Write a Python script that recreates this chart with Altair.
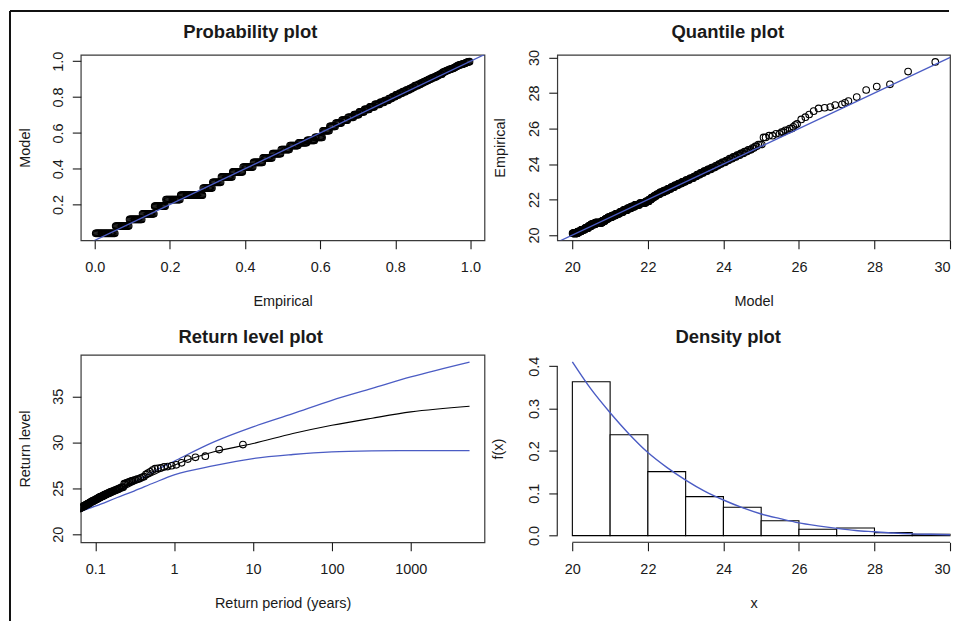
import numpy as np
import pandas as pd
import altair as alt

FONT = "Liberation Sans"
INK = "#1a1a1a"
BLUE = "#4b5cc4"

# ---------------- values ----------------
# distinct values of the sorted sample (body of the data) and how often each occurs
body_values = [20.1, 20.2, 20.3, 20.4, 20.5, 20.6, 20.7, 20.8, 20.9, 21.0,
               21.1, 21.2, 21.3, 21.4, 21.5, 21.6, 21.7, 21.8, 21.9, 22.0,
               22.1, 22.2, 22.3, 22.4, 22.5, 22.6, 22.7, 22.8, 22.9, 23.0,
               23.1, 23.2, 23.3, 23.4, 23.5, 23.6, 23.7, 23.8, 23.9, 24.0,
               24.1, 24.2, 24.3, 24.4, 24.5, 24.6, 24.7, 24.8, 24.9, 25.0,
               25.1, 25.5, 25.6, 25.7, 25.8, 25.9, 26.0]
body_counts = [23, 16, 15, 14, 13, 17, 26, 11, 10, 13,
               12, 12, 11, 11, 10, 10, 10, 10, 9, 9,
               8, 7, 7, 7, 7, 6, 6, 6, 6, 6,
               5, 5, 4, 4, 4, 4, 4, 4, 3, 3,
               4, 3, 3, 3, 3, 3, 3, 3, 2, 2,
               3, 2, 2, 2, 2, 2, 2]
# fitted model CDF at each distinct value (step heights of the probability plot)
body_model_cdf = [0.039, 0.080, 0.117, 0.148, 0.191, 0.228, 0.252, 0.292, 0.324, 0.354,
                  0.382, 0.409, 0.435, 0.460, 0.484, 0.507, 0.529, 0.545, 0.558, 0.575,
                  0.612, 0.636, 0.655, 0.671, 0.687, 0.702, 0.717, 0.731, 0.745, 0.759,
                  0.770, 0.781, 0.792, 0.802, 0.812, 0.821, 0.830, 0.839, 0.847, 0.855,
                  0.864, 0.871, 0.878, 0.885, 0.892, 0.899, 0.906, 0.912, 0.918, 0.923,
                  0.928, 0.938, 0.943, 0.947, 0.951, 0.955, 0.958]
tail_values = [26.1, 26.2, 26.26, 26.51, 26.64, 26.79, 26.98, 27.13, 27.17, 27.21,
               27.32, 27.36, 27.45, 27.55, 27.77, 28.17, 28.36, 28.49, 29.21, 29.75]
tail_model_cdf = [0.961, 0.963, 0.965, 0.969, 0.971, 0.974, 0.977, 0.979, 0.980, 0.981,
                  0.983, 0.984, 0.986, 0.987, 0.989, 0.992, 0.994, 0.995, 0.997, 0.998]
tail_model_quantile = [25.85, 25.90, 25.95, 26.06, 26.17, 26.27, 26.39, 26.52, 26.68, 26.83,
                       26.96, 27.14, 27.22, 27.31, 27.53, 27.78, 28.06, 28.41, 28.89, 29.61]
threshold = 20.0

# return level plot
rl_top_period = 7.45  # return period (years) of the largest observation
rl_period = [0.0655, 0.1, 0.19, 0.31, 0.557, 1, 3.2, 10, 32, 100, 323, 1000, 5560]
rl_level = [22.64, 23.35, 24.50, 25.45, 26.50, 27.50, 28.96, 29.86, 30.95, 31.85, 32.62, 33.30, 33.92]
rl_upper = [22.70, 23.45, 24.65, 25.65, 26.85, 27.94, 30.04, 31.67, 33.11, 34.56, 35.85, 37.10, 38.72]
rl_lower = [22.50, 23.05, 24.00, 24.70, 25.60, 26.45, 27.45, 28.23, 28.67, 28.96, 29.07, 29.10, 29.10]

# density plot
hist_breaks = [20, 21, 22, 23, 24, 25, 26, 27, 28, 29, 30]
hist_density = [0.363, 0.238, 0.151, 0.092, 0.067, 0.035, 0.015, 0.018, 0.007, 0.003]
dens_x = [20, 20.5, 21, 21.5, 22, 22.5, 23, 23.5, 24, 24.5, 25, 25.5, 26, 26.5, 27, 27.5, 28, 28.5, 29, 29.5, 30]
dens_y = [0.410, 0.345, 0.290, 0.240, 0.196, 0.161, 0.131, 0.105, 0.084, 0.066, 0.051,
          0.040, 0.030, 0.023, 0.017, 0.012, 0.009, 0.006, 0.004, 0.003, 0.002]

# ticks
prob_x_ticks = [0.0, 0.2, 0.4, 0.6, 0.8, 1.0]
prob_y_ticks = [0.2, 0.4, 0.6, 0.8, 1.0]
q_ticks = [20, 22, 24, 26, 28, 30]
rl_x_ticks = [0.1, 1, 10, 100, 1000]
rl_y_ticks = [20, 25, 30, 35]
dens_y_ticks = [0.0, 0.1, 0.2, 0.3, 0.4]

# ---------------- derived tables ----------------
sample = list(np.repeat(body_values, body_counts)) + tail_values
n = len(sample)
n_body = int(np.sum(body_counts))
emp_p = np.arange(1, n + 1) / (n + 1)
model_p = list(np.repeat(body_model_cdf, body_counts)) + tail_model_cdf
model_q = list(np.interp(emp_p[:n_body], [0.0] + body_model_cdf, [threshold] + body_values)) + tail_model_quantile

prob_df = pd.DataFrame({"emp": emp_p, "model": model_p})
qq_df = pd.DataFrame({"model": model_q, "emp": sample})
desc = sorted(sample, reverse=True)
rl_pts = pd.DataFrame({"T": [rl_top_period / r for r in range(1, n + 1)], "level": desc})
rl_df = pd.DataFrame({"T": rl_period, "mid": rl_level, "up": rl_upper, "lo": rl_lower})
hist_df = pd.DataFrame({"left": hist_breaks[:-1], "right": hist_breaks[1:], "d": hist_density})
dens_df = pd.DataFrame({"x": dens_x, "y": dens_y})
one = pd.DataFrame({"k": [0]})

W_L, W_R = 405, 394
H_T, H_B = 186, 188


def x_axis(title, values, fmt, flush=False):
    return alt.Axis(title=title, values=values, format=fmt, labelBaseline="middle",
                    labelPadding=19, labelFlush=flush, titleBaseline="alphabetic", titleY=65.5,
                    labelOverlap=False, domain=False)


def y_axis(title, values, fmt, h, title_x):
    return alt.Axis(title=title, values=values, format=fmt, labelAngle=270, labelAlign="center",
                    labelBaseline="middle", labelPadding=14, titleAngle=270, titleBaseline="alphabetic",
                    titleAlign="center", titleX=title_x, titleY=h / 2, labelOverlap=False, domain=False)


def panel_title(text, x, y):
    return alt.Chart(one).mark_text(font=FONT, fontSize=18.5, fontWeight="bold", color=INK,
                                    align="center", baseline="alphabetic").encode(
        x=alt.value(x), y=alt.value(y), text=alt.value(text))


def circles(df):
    return alt.Chart(df).mark_point(shape="circle", filled=False, size=44, color="black",
                                    strokeWidth=1.1, opacity=1, clip=True)


# ---- Probability plot ----
px = alt.Scale(domain=[-0.0375, 1.0375], nice=False, zero=False)
py = alt.Scale(domain=[0.0006, 1.036], nice=False, zero=False)
ax_px = x_axis("Empirical", prob_x_ticks, ".1f")
ax_py = y_axis("Model", prob_y_ticks, ".1f", H_T, -51)
prob_pts = circles(prob_df).encode(
    x=alt.X("emp:Q", scale=px, axis=ax_px), y=alt.Y("model:Q", scale=py, axis=ax_py))
abl1 = pd.DataFrame({"a": [-0.05, 1.05]})
prob_line = alt.Chart(abl1).mark_line(color=BLUE, strokeWidth=1.3, clip=True).encode(
    x=alt.X("a:Q", scale=px, axis=ax_px), y=alt.Y("a:Q", scale=py, axis=ax_py))
frame_v = alt.Chart(one).mark_rule(color="#111", strokeWidth=2).encode(
    x=alt.value(-71), y=alt.value(-44), y2=alt.value(569))
frame_h = alt.Chart(one).mark_rule(color="#111", strokeWidth=2).encode(
    x=alt.value(-71), x2=alt.value(871), y=alt.value(-44))
tl = alt.layer(prob_pts, prob_line, frame_v, frame_h,
               panel_title("Probability plot", 170, -17)).properties(width=W_L, height=H_T)

# ---- Quantile plot ----
qx = alt.Scale(domain=[19.6, 30.0], nice=False, zero=False)
qy = alt.Scale(domain=[19.71, 30.15], nice=False, zero=False)
ax_qx = x_axis("Model", q_ticks, "d", flush=True)
ax_qy = y_axis("Empirical", q_ticks, "d", H_T, -53)
qq_pts = circles(qq_df).encode(
    x=alt.X("model:Q", scale=qx, axis=ax_qx), y=alt.Y("emp:Q", scale=qy, axis=ax_qy))
abl2 = pd.DataFrame({"a": [19.0, 31.0]})
qq_line = alt.Chart(abl2).mark_line(color=BLUE, strokeWidth=1.3, clip=True).encode(
    x=alt.X("a:Q", scale=qx, axis=ax_qx), y=alt.Y("a:Q", scale=qy, axis=ax_qy))
tr = alt.layer(qq_pts, qq_line, panel_title("Quantile plot", 171, -17)).properties(width=W_R, height=H_T)

# ---- Return level plot ----
rx = alt.Scale(type="log", domain=[0.0655, 8600], nice=False)
ry = alt.Scale(domain=[19.13, 39.5], nice=False, zero=False)
ax_rx = x_axis("Return period (years)", rl_x_ticks, "~g")
ax_ry = y_axis("Return level", rl_y_ticks, "d", H_B, -51)
rl_mid = alt.Chart(rl_df).mark_line(color="black", strokeWidth=1.1, clip=True, interpolate="monotone").encode(
    x=alt.X("T:Q", scale=rx, axis=ax_rx), y=alt.Y("mid:Q", scale=ry, axis=ax_ry))
rl_up = alt.Chart(rl_df).mark_line(color=BLUE, strokeWidth=1.3, clip=True, interpolate="monotone").encode(
    x=alt.X("T:Q", scale=rx, axis=ax_rx), y=alt.Y("up:Q", scale=ry, axis=ax_ry))
rl_lo = alt.Chart(rl_df).mark_line(color=BLUE, strokeWidth=1.3, clip=True, interpolate="monotone").encode(
    x=alt.X("T:Q", scale=rx, axis=ax_rx), y=alt.Y("lo:Q", scale=ry, axis=ax_ry))
rl_p = circles(rl_pts).encode(
    x=alt.X("T:Q", scale=rx, axis=ax_rx), y=alt.Y("level:Q", scale=ry, axis=ax_ry))
bl = alt.layer(rl_mid, rl_up, rl_lo, rl_p,
               panel_title("Return level plot", 170.5, -12)).properties(width=W_L, height=H_B)

# ---- Density plot ----
dxs = alt.Scale(domain=[19.6, 30.0], nice=False, zero=False)
dys = alt.Scale(domain=[-0.0158, 0.4266], nice=False, zero=False)
ax_dx = x_axis("x", q_ticks, "d", flush=True)
ax_dy = y_axis("f(x)", dens_y_ticks, ".1f", H_B, -55)
bars = alt.Chart(hist_df).mark_rect(fill="white", stroke="black", strokeWidth=1.1).encode(
    x=alt.X("left:Q", scale=dxs, axis=ax_dx), x2="right:Q",
    y=alt.Y("d:Q", scale=dys, axis=ax_dy), y2=alt.datum(0))
curve = alt.Chart(dens_df).mark_line(color=BLUE, strokeWidth=1.4, clip=True, interpolate="monotone").encode(
    x=alt.X("x:Q", scale=dxs, axis=ax_dx), y=alt.Y("y:Q", scale=dys, axis=ax_dy))
xline_df = pd.DataFrame({"a": [q_ticks[0]], "b": [q_ticks[-1]]})
yline_df = pd.DataFrame({"a": [dens_y_ticks[0]], "b": [dens_y_ticks[-1]]})
x_line = alt.Chart(xline_df).mark_rule(color=INK, strokeWidth=1.1).encode(
    x=alt.X("a:Q", scale=dxs, axis=ax_dx), x2="b:Q", y=alt.value(H_B))
y_line = alt.Chart(yline_df).mark_rule(color=INK, strokeWidth=1.1).encode(
    y=alt.Y("a:Q", scale=dys, axis=ax_dy), y2="b:Q", x=alt.value(0))
br = alt.layer(bars, curve, x_line, y_line, panel_title("Density plot", 171.5, -12)).properties(
    width=W_R, height=H_B, view=alt.ViewBackground(strokeWidth=0, stroke="transparent"))

chart = alt.concat(tl, tr, bl, br, columns=2, spacing={"row": 115, "column": 73}, bounds="flush").properties(
    padding=0, background="white"
).configure_view(
    stroke="#3a3a3a", strokeWidth=1.2
).configure_axis(
    labelFont=FONT, labelFontSize=14.5, labelColor=INK,
    titleFont=FONT, titleFontSize=14.5, titleFontWeight="normal", titleColor=INK,
    tickColor=INK, tickSize=8.5, tickWidth=1.1, grid=False
)

chart.save("out.html", embed_options={"renderer": "svg", "actions": False})
